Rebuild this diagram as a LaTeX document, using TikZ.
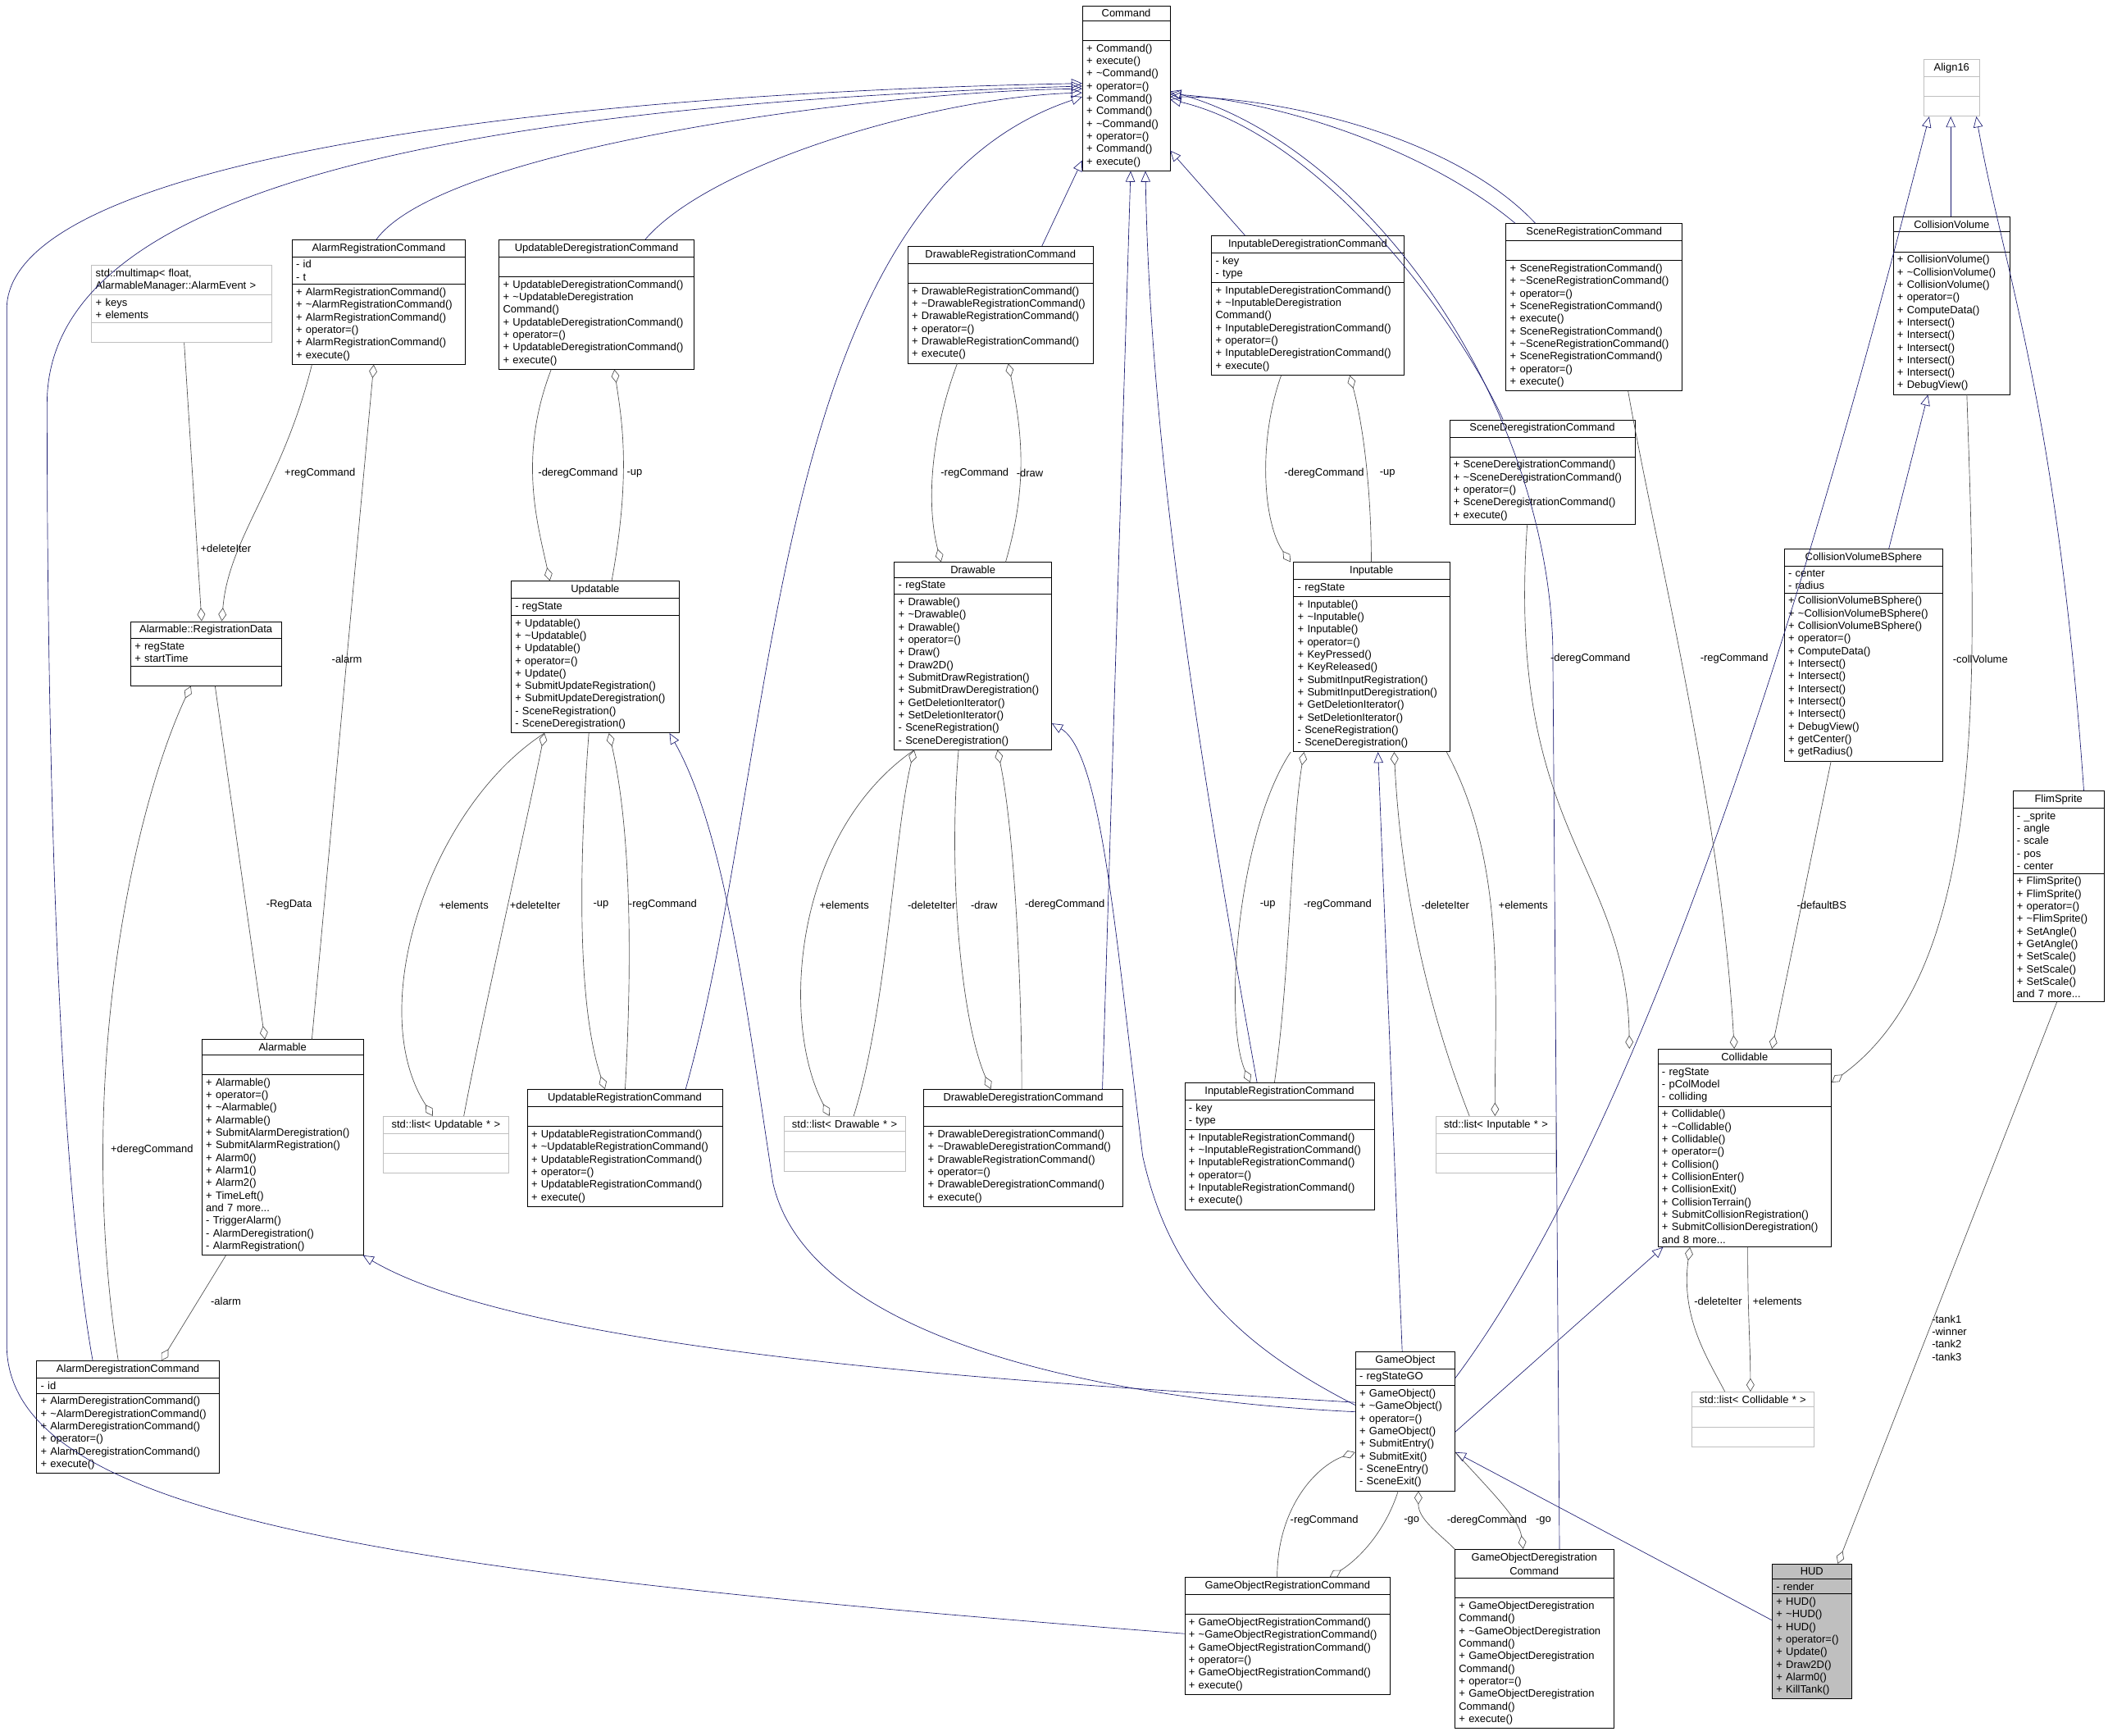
\documentclass[tikz,border=0pt]{standalone}
\usepackage{fontspec}
\setmainfont{Liberation Sans}
\usetikzlibrary{shapes.multipart,arrows.meta}
\newcommand{\ttl}[1]{\hbox to \hsize{\hfil#1\hfil}}
\begin{document}
\begin{tikzpicture}[
    x=1pt, y=-1pt,
    every node/.style={font=\fontsize{7.9}{9.35}\selectfont},
    cls/.style={rectangle split, rectangle split parts=3, draw, anchor=north west, align=left,
      inner xsep=3pt, inner ysep=2.5pt},
    ext/.style={cls, draw=black!25},
    inh/.style={draw={rgb,255:red,25;green,25;blue,112}, -{Triangle[open,length=8pt,width=7pt]}},
    agg/.style={draw=black!70, -{Diamond[open,length=10pt,width=6pt]}},
    lbl/.style={inner sep=1pt}
]
\useasboundingbox (0,0) rectangle (1568,1291);

% Classes
\node[cls, text width=59pt] (cmd) at (805,4) {\ttl{Command}\nodepart{two}\strut\nodepart{three}+ Command()\\+ execute()\\+ \textasciitilde Command()\\+ operator=()\\+ Command()\\+ Command()\\+ \textasciitilde Command()\\+ operator=()\\+ Command()\\+ execute()};
\node[ext, text width=35pt] (align) at (1431,44) {\ttl{Align16}\nodepart{two}\strut\nodepart{three}\strut};
\node[cls, text width=81pt] (cv) at (1408,161) {\ttl{CollisionVolume}\nodepart{two}\strut\nodepart{three}+ CollisionVolume()\\+ \textasciitilde CollisionVolume()\\+ CollisionVolume()\\+ operator=()\\+ ComputeData()\\+ Intersect()\\+ Intersect()\\+ Intersect()\\+ Intersect()\\+ Intersect()\\+ DebugView()};
\node[ext, text width=128pt] (mmap) at (68,197) {std::multimap\textless{} float,\\ AlarmableManager::AlarmEvent \textgreater\nodepart{two}+ keys\\+ elements\nodepart{three}\strut};
\node[cls, text width=123pt] (arc) at (217,178) {\ttl{AlarmRegistrationCommand}\nodepart{two}- id\\- t\nodepart{three}+ AlarmRegistrationCommand()\\+ \textasciitilde AlarmRegistrationCommand()\\+ AlarmRegistrationCommand()\\+ operator=()\\+ AlarmRegistrationCommand()\\+ execute()};
\node[cls, text width=139pt] (udc) at (371,178) {\ttl{UpdatableDeregistrationCommand}\nodepart{two}\strut\nodepart{three}+ UpdatableDeregistrationCommand()\\+ \textasciitilde UpdatableDeregistration\\Command()\\+ UpdatableDeregistrationCommand()\\+ operator=()\\+ UpdatableDeregistrationCommand()\\+ execute()};
\node[cls, text width=132pt] (drc) at (675,183) {\ttl{DrawableRegistrationCommand}\nodepart{two}\strut\nodepart{three}+ DrawableRegistrationCommand()\\+ \textasciitilde DrawableRegistrationCommand()\\+ DrawableRegistrationCommand()\\+ operator=()\\+ DrawableRegistrationCommand()\\+ execute()};
\node[cls, text width=137pt] (idc) at (901,175) {\ttl{InputableDeregistrationCommand}\nodepart{two}- key\\- type\nodepart{three}+ InputableDeregistrationCommand()\\+ \textasciitilde InputableDeregistration\\Command()\\+ InputableDeregistrationCommand()\\+ operator=()\\+ InputableDeregistrationCommand()\\+ execute()};
\node[cls, text width=125pt] (src) at (1120,166) {\ttl{SceneRegistrationCommand}\nodepart{two}\strut\nodepart{three}+ SceneRegistrationCommand()\\+ \textasciitilde SceneRegistrationCommand()\\+ operator=()\\+ SceneRegistrationCommand()\\+ execute()\\+ SceneRegistrationCommand()\\+ \textasciitilde SceneRegistrationCommand()\\+ SceneRegistrationCommand()\\+ operator=()\\+ execute()};
\node[cls, text width=132pt] (sdc) at (1078,312) {\ttl{SceneDeregistrationCommand}\nodepart{two}\strut\nodepart{three}+ SceneDeregistrationCommand()\\+ \textasciitilde SceneDeregistrationCommand()\\+ operator=()\\+ SceneDeregistrationCommand()\\+ execute()};
\node[cls, text width=106pt] (rd) at (97,462) {\ttl{Alarmable::RegistrationData}\nodepart{two}+ regState\\+ startTime\nodepart{three}\strut};
\node[cls, text width=119pt] (upd) at (380,432) {\ttl{Updatable}\nodepart{two}- regState\nodepart{three}+ Updatable()\\+ \textasciitilde Updatable()\\+ Updatable()\\+ operator=()\\+ Update()\\+ SubmitUpdateRegistration()\\+ SubmitUpdateDeregistration()\\- SceneRegistration()\\- SceneDeregistration()};
\node[cls, text width=111pt] (drw) at (665,418) {\ttl{Drawable}\nodepart{two}- regState\nodepart{three}+ Drawable()\\+ \textasciitilde Drawable()\\+ Drawable()\\+ operator=()\\+ Draw()\\+ Draw2D()\\+ SubmitDrawRegistration()\\+ SubmitDrawDeregistration()\\+ GetDeletionIterator()\\+ SetDeletionIterator()\\- SceneRegistration()\\- SceneDeregistration()};
\node[cls, text width=110pt] (inp) at (962,418) {\ttl{Inputable}\nodepart{two}- regState\nodepart{three}+ Inputable()\\+ \textasciitilde Inputable()\\+ Inputable()\\+ operator=()\\+ KeyPressed()\\+ KeyReleased()\\+ SubmitInputRegistration()\\+ SubmitInputDeregistration()\\+ GetDeletionIterator()\\+ SetDeletionIterator()\\- SceneRegistration()\\- SceneDeregistration()};
\node[cls, text width=112pt] (cvbs) at (1327,408) {\ttl{CollisionVolumeBSphere}\nodepart{two}- center\\- radius\nodepart{three}+ CollisionVolumeBSphere()\\+ \textasciitilde CollisionVolumeBSphere()\\+ CollisionVolumeBSphere()\\+ operator=()\\+ ComputeData()\\+ Intersect()\\+ Intersect()\\+ Intersect()\\+ Intersect()\\+ Intersect()\\+ DebugView()\\+ getCenter()\\+ getRadius()};
\node[cls, text width=62pt] (flim) at (1497,588) {\ttl{FlimSprite}\nodepart{two}- \_sprite\\- angle\\- scale\\- pos\\- center\nodepart{three}+ FlimSprite()\\+ FlimSprite()\\+ operator=()\\+ \textasciitilde FlimSprite()\\+ SetAngle()\\+ GetAngle()\\+ SetScale()\\+ SetScale()\\+ SetScale()\\and 7 more...};
\node[cls, text width=114pt] (alm) at (150,773) {\ttl{Alarmable}\nodepart{two}\strut\nodepart{three}+ Alarmable()\\+ operator=()\\+ \textasciitilde Alarmable()\\+ Alarmable()\\+ SubmitAlarmDeregistration()\\+ SubmitAlarmRegistration()\\+ Alarm0()\\+ Alarm1()\\+ Alarm2()\\+ TimeLeft()\\and 7 more...\\- TriggerAlarm()\\- AlarmDeregistration()\\- AlarmRegistration()};
\node[ext, text width=87pt] (lupd) at (285,830) {\ttl{std::list\textless{} Updatable * \textgreater}\nodepart{two}\strut\nodepart{three}\strut};
\node[cls, text width=139pt] (urc) at (392,810) {\ttl{UpdatableRegistrationCommand}\nodepart{two}\strut\nodepart{three}+ UpdatableRegistrationCommand()\\+ \textasciitilde UpdatableRegistrationCommand()\\+ UpdatableRegistrationCommand()\\+ operator=()\\+ UpdatableRegistrationCommand()\\+ execute()};
\node[ext, text width=84pt] (ldrw) at (583,830) {\ttl{std::list\textless{} Drawable * \textgreater}\nodepart{two}\strut\nodepart{three}\strut};
\node[cls, text width=142pt] (ddc) at (687,810) {\ttl{DrawableDeregistrationCommand}\nodepart{two}\strut\nodepart{three}+ DrawableDeregistrationCommand()\\+ \textasciitilde DrawableDeregistrationCommand()\\+ DrawableRegistrationCommand()\\+ operator=()\\+ DrawableDeregistrationCommand()\\+ execute()};
\node[cls, text width=135pt] (irc) at (881,805) {\ttl{InputableRegistrationCommand}\nodepart{two}- key\\- type\nodepart{three}+ InputableRegistrationCommand()\\+ \textasciitilde InputableRegistrationCommand()\\+ InputableRegistrationCommand()\\+ operator=()\\+ InputableRegistrationCommand()\\+ execute()};
\node[ext, text width=83pt] (linp) at (1068,830) {\ttl{std::list\textless{} Inputable * \textgreater}\nodepart{two}\strut\nodepart{three}\strut};
\node[cls, text width=123pt] (col) at (1233,780) {\ttl{Collidable}\nodepart{two}- regState\\- pColModel\\- colliding\nodepart{three}+ Collidable()\\+ \textasciitilde Collidable()\\+ Collidable()\\+ operator=()\\+ Collision()\\+ CollisionEnter()\\+ CollisionExit()\\+ CollisionTerrain()\\+ SubmitCollisionRegistration()\\+ SubmitCollisionDeregistration()\\and 8 more...};
\node[cls, text width=130pt] (adc) at (27,1012) {\ttl{AlarmDeregistrationCommand}\nodepart{two}- id\nodepart{three}+ AlarmDeregistrationCommand()\\+ \textasciitilde AlarmDeregistrationCommand()\\+ AlarmDeregistrationCommand()\\+ operator=()\\+ AlarmDeregistrationCommand()\\+ execute()};
\node[cls, text width=68pt] (go) at (1008,1005) {\ttl{GameObject}\nodepart{two}- regStateGO\nodepart{three}+ GameObject()\\+ \textasciitilde GameObject()\\+ operator=()\\+ GameObject()\\+ SubmitEntry()\\+ SubmitExit()\\- SceneEntry()\\- SceneExit()};
\node[ext, text width=85pt] (lcol) at (1258,1035) {\ttl{std::list\textless{} Collidable * \textgreater}\nodepart{two}\strut\nodepart{three}\strut};
\node[cls, text width=147pt] (gorc) at (881,1173) {\ttl{GameObjectRegistrationCommand}\nodepart{two}\strut\nodepart{three}+ GameObjectRegistrationCommand()\\+ \textasciitilde GameObjectRegistrationCommand()\\+ GameObjectRegistrationCommand()\\+ operator=()\\+ GameObjectRegistrationCommand()\\+ execute()};
\node[cls, text width=112pt] (godc) at (1082,1152) {\ttl{\shortstack{GameObjectDeregistration\\Command}}\nodepart{two}\strut\nodepart{three}+ GameObjectDeregistration\\Command()\\+ \textasciitilde GameObjectDeregistration\\Command()\\+ GameObjectDeregistration\\Command()\\+ operator=()\\+ GameObjectDeregistration\\Command()\\+ execute()};
\node[cls, text width=53pt, fill=black!25] (hud) at (1318,1163) {\ttl{HUD}\nodepart{two}- render\nodepart{three}+ HUD()\\+ \textasciitilde HUD()\\+ HUD()\\+ operator=()\\+ Update()\\+ Draw2D()\\+ Alarm0()\\+ KillTank()};

% Inheritance
\draw[inh] ([xshift=63pt]arc.north west) .. controls (330,110) and (650,68) .. ([yshift=-62pt]cmd.north west);
\draw[inh] ([xshift=109pt]udc.north west) .. controls (530,120) and (700,72) .. ([yshift=-65pt]cmd.north west);
\draw[inh] ([xshift=100pt]drc.north west) -- ([yshift=8pt]cmd.south west);
\draw[inh] ([xshift=25pt]idc.north west) -- ([yshift=-108pt]cmd.north east);
\draw[inh] ([xshift=7pt]src.north west) .. controls (1060,110) and (950,75) .. ([yshift=-66pt]cmd.north east);
\draw[inh] ([xshift=22pt]src.north west) .. controls (1080,100) and (950,72) .. ([yshift=-68pt]cmd.north east);
\draw[inh] ([xshift=40pt]sdc.north west) .. controls (1080,230) and (980,100) .. ([yshift=-70pt]cmd.north east);
\draw[inh] ([xshift=78pt]godc.north west) -- (1155,480) .. controls (1150,300) and (1020,110) .. ([yshift=-64pt]cmd.north east);
\draw[inh] ([xshift=54pt]irc.north west) .. controls (880,500) and (855,300) .. ([xshift=47pt]cmd.south west);
\draw[inh] ([xshift=133pt]ddc.north west) -- ([xshift=36pt]cmd.south west);
\draw[inh] ([xshift=118pt]urc.north west) .. controls (580,560) and (570,150) .. ([yshift=-68pt]cmd.north west);
\draw[inh] ([xshift=42pt]adc.north west) .. controls (40,850) and (35,500) .. (35,300) .. controls (35,150) and (300,80) .. ([yshift=-60pt]cmd.north west);
\draw[inh] ([yshift=-42pt]gorc.north west) .. controls (300,1170) and (5,1130) .. (5,1000) -- (5,230) .. controls (5,120) and (400,70) .. ([yshift=-58pt]cmd.north west);
\draw[inh] ([xshift=43pt]cv.north west) -- ([xshift=20pt]align.south west);
\draw[inh] ([yshift=-20pt]go.north east) .. controls (1250,800) and (1380,300) .. ([xshift=4pt]align.south west);
\draw[inh] ([xshift=53pt]flim.north west) .. controls (1530,300) and (1490,200) .. ([xshift=39pt]align.south west);
\draw[inh] ([xshift=78pt]cvbs.north west) -- ([xshift=26pt]cv.south west);
\draw[inh] ([yshift=-45pt]go.north west) .. controls (800,1040) and (600,990) .. (575,880) .. controls (555,750) and (540,620) .. ([xshift=118pt]upd.south west);
\draw[inh] ([yshift=-40pt]go.north west) .. controls (920,1000) and (870,950) .. (850,860) .. controls (830,700) and (820,560) .. ([yshift=-120pt]drw.north east);
\draw[inh] ([yshift=-38pt]go.north west) .. controls (800,1030) and (400,1010) .. ([xshift=120pt]alm.south west);
\draw[inh] ([yshift=-60pt]go.north east) -- ([xshift=4pt]col.south west);
\draw[inh] ([xshift=35pt]go.north west) -- ([xshift=63pt]inp.south west);
\draw[inh] ([yshift=-42pt]hud.north west) -- ([yshift=-75pt]go.north east);

% Members
\draw[agg] ([xshift=69pt]mmap.south west) -- ([xshift=53pt]rd.north west);
\draw[agg] ([xshift=15pt]arc.south west) .. controls (210,360) and (170,400) .. ([xshift=68pt]rd.north west);
\draw[agg] ([xshift=61pt]adc.north west) .. controls (55,800) and (100,600) .. ([xshift=45pt]rd.south west);
\draw[agg] ([xshift=63pt]rd.south west) -- ([xshift=47pt]alm.north west);
\draw[agg] ([xshift=82pt]alm.north west) -- ([xshift=61pt]arc.south west);
\draw[agg] ([xshift=18pt]alm.south west) -- ([xshift=93pt]adc.north west);
\draw[agg] ([xshift=75pt]upd.north west) .. controls (470,350) and (462,310) .. ([xshift=86pt]udc.south west);
\draw[agg] ([xshift=39pt]udc.south west) .. controls (385,340) and (400,390) .. ([xshift=29pt]upd.north west);
\draw[agg] ([xshift=25pt]upd.south west) .. controls (320,600) and (270,750) .. ([xshift=37pt]lupd.north west);
\draw[agg] ([xshift=60pt]lupd.north west) .. controls (360,750) and (390,620) .. ([xshift=25pt]upd.south west);
\draw[agg] ([xshift=58pt]upd.south west) .. controls (430,650) and (430,750) .. ([xshift=58pt]urc.north west);
\draw[agg] ([xshift=73pt]urc.north west) .. controls (470,720) and (470,620) .. ([xshift=73pt]upd.south west);
\draw[agg] ([xshift=37pt]drc.south west) .. controls (690,330) and (690,380) .. ([xshift=35pt]drw.north west);
\draw[agg] ([xshift=83pt]drw.north west) .. controls (765,360) and (760,320) .. ([xshift=75pt]drc.south west);
\draw[agg] ([xshift=15pt]drw.south west) .. controls (590,620) and (580,760) .. ([xshift=34pt]ldrw.north west);
\draw[agg] ([xshift=52pt]ldrw.north west) .. controls (660,750) and (665,620) .. ([xshift=15pt]drw.south west);
\draw[agg] ([xshift=48pt]drw.south west) .. controls (705,650) and (715,760) .. ([xshift=50pt]ddc.north west);
\draw[agg] ([xshift=73pt]ddc.north west) .. controls (760,740) and (755,620) .. ([xshift=77pt]drw.south west);
\draw[agg] ([xshift=52pt]idc.south west) .. controls (935,330) and (940,390) .. ([xshift=-2pt]inp.north west);
\draw[agg] ([xshift=58pt]inp.north west) .. controls (1020,370) and (1015,320) .. ([xshift=103pt]idc.south west);
\draw[agg] ([xshift=-2pt]inp.south west) .. controls (920,620) and (910,760) .. ([xshift=49pt]irc.north west);
\draw[agg] ([xshift=67pt]irc.north west) .. controls (960,720) and (960,620) .. ([xshift=8pt]inp.south west);
\draw[agg] ([xshift=25pt]linp.north west) .. controls (1050,720) and (1040,620) .. ([xshift=75pt]inp.south west);
\draw[agg] ([xshift=114pt]inp.south west) .. controls (1120,640) and (1112,740) .. ([xshift=44pt]linp.north west);
\draw[agg] ([xshift=58pt]sdc.south west) .. controls (1120,620) and (1210,640) .. ([xshift=-21pt]col.north west);
\draw[agg] ([xshift=91pt]src.south west) .. controls (1230,400) and (1280,600) .. ([xshift=57pt]col.north west);
\draw[agg] ([xshift=35pt]cvbs.south west) -- ([xshift=85pt]col.north west);
\draw[agg] ([xshift=55pt]cv.south west) .. controls (1470,500) and (1480,720) .. ([yshift=-25pt]col.north east);
\draw[agg] ([xshift=25pt]lcol.north west) .. controls (1270,1010) and (1250,980) .. ([xshift=24pt]col.south west);
\draw[agg] ([xshift=67pt]col.south west) .. controls (1300,980) and (1302,1000) .. ([xshift=44pt]lcol.north west);
\draw[agg] ([xshift=69pt]gorc.north west) .. controls (950,1120) and (980,1090) .. ([yshift=-75pt]go.north west);
\draw[agg] ([xshift=32pt]go.south west) .. controls (1030,1140) and (1010,1160) .. ([xshift=108pt]gorc.north west);
\draw[agg] ([xshift=0pt]godc.north west) .. controls (1070,1140) and (1055,1130) .. ([xshift=47pt]go.south west);
\draw[agg] ([yshift=-75pt]go.north east) .. controls (1110,1110) and (1130,1130) .. ([xshift=51pt]godc.north west);
\draw[agg] ([xshift=33pt]flim.south west) -- ([xshift=49pt]hud.north west);

% Member labels
\node[lbl] (l-mm) at (168,408) {+deleteIter};
\node[lbl] (l-arc) at (238,352) {+regCommand};
\node[lbl] (l-adc) at (113,855) {+deregCommand};
\node[lbl] (l-rd) at (215,673) {-RegData};
\node[lbl] (l-alm1) at (258,490) {-alarm};
\node[lbl] (l-alm2) at (168,968) {-alarm};
\node[lbl] (l-udc1) at (430,352) {-deregCommand};
\node[lbl] (l-udc2) at (472,352) {-up};
\node[lbl] (l-lu1) at (345,673) {+elements};
\node[lbl] (l-lu2) at (398,673) {+deleteIter};
\node[lbl] (l-urc1) at (447,673) {-up};
\node[lbl] (l-urc2) at (493,673) {-regCommand};
\node[lbl] (l-drc1) at (725,352) {-regCommand};
\node[lbl] (l-drc2) at (766,352) {-draw};
\node[lbl] (l-ld1) at (628,673) {+elements};
\node[lbl] (l-ld2) at (693,673) {-deleteIter};
\node[lbl] (l-ddc1) at (732,673) {-draw};
\node[lbl] (l-ddc2) at (792,673) {-deregCommand};
\node[lbl] (l-idc1) at (985,352) {-deregCommand};
\node[lbl] (l-idc2) at (1032,352) {-up};
\node[lbl] (l-irc1) at (943,673) {-up};
\node[lbl] (l-irc2) at (995,673) {-regCommand};
\node[lbl] (l-li1) at (1075,673) {-deleteIter};
\node[lbl] (l-li2) at (1133,673) {+elements};
\node[lbl] (l-sdc) at (1183,490) {-deregCommand};
\node[lbl] (l-src) at (1290,490) {-regCommand};
\node[lbl] (l-bs) at (1355,673) {-defaultBS};
\node[lbl] (l-cv) at (1473,490) {-collVolume};
\node[lbl] (l-lc1) at (1278,968) {-deleteIter};
\node[lbl] (l-lc2) at (1322,968) {+elements};
\node[lbl] (l-go1) at (985,1131) {-regCommand};
\node[lbl] (l-go2) at (1050,1131) {-go};
\node[lbl] (l-go3) at (1106,1131) {-deregCommand};
\node[lbl] (l-go4) at (1148,1131) {-go};
\node[lbl, align=left] (l-hud) at (1450,995) {-tank1\\-winner\\-tank2\\-tank3};

\end{tikzpicture}
\end{document}
